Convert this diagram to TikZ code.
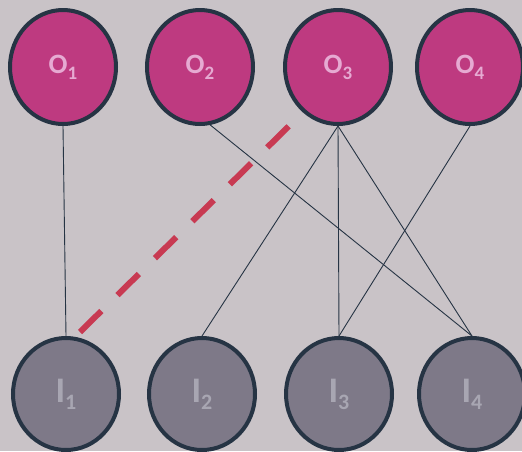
\documentclass[tikz,border=0pt]{standalone}
\usepackage{fontspec}
\setmainfont{Carlito}
\usetikzlibrary{shapes.geometric}
\definecolor{bg}{RGB}{201,195,199}
\definecolor{ofill}{RGB}{190,58,128}
\definecolor{ifill}{RGB}{126,121,136}
\definecolor{rim}{RGB}{38,52,68}
\definecolor{otext}{RGB}{230,170,210}
\definecolor{itext}{RGB}{168,166,178}
\definecolor{dash}{RGB}{200,58,82}
\newcommand{\olbl}[1]{O\raisebox{-6pt}{\fontsize{19}{19}\selectfont #1}}
\newcommand{\ilbl}[1]{I\raisebox{-7pt}{\fontsize{22}{22}\selectfont #1}}
\begin{document}
\begin{tikzpicture}[x=1pt,y=-1pt,
  onode/.style={ellipse,draw=rim,line width=4pt,fill=ofill,minimum width=106pt,minimum height=114pt,inner sep=0pt,text=otext,font=\fontsize{28}{28}\selectfont\bfseries},
  inode/.style={ellipse,draw=rim,line width=4pt,fill=ifill,minimum width=106pt,minimum height=112pt,inner sep=0pt,text=itext,font=\fontsize{36}{36}\selectfont\bfseries},
  link/.style={draw=rim,line width=0.9pt},
  redash/.style={draw=dash,line width=6pt,dash pattern=on 30pt off 22.6pt}]
\fill[bg] (0,0) rectangle (522,451);
\useasboundingbox (0,0) rectangle (522,451);
\node[onode] (o1) at (63,67) {\olbl{1}};
\node[onode] (o2) at (200,67) {\olbl{2}};
\node[onode] (o3) at (338,67) {\olbl{3}};
\node[onode] (o4) at (470,67) {\olbl{4}};
\node[inode] (i1) at (66,394) {\ilbl{1}};
\node[inode] (i2) at (202,394) {\ilbl{2}};
\node[inode] (i3) at (339,394) {\ilbl{3}};
\node[inode] (i4) at (472,394) {\ilbl{4}};
\coordinate (d1) at (80,332);
\coordinate (d2) at (289,126);
\draw[link] (o1.south) -- (i1.north);
\draw[link] (o2.-80) -- (i4.north);
\draw[link] (o3.south) -- (i2.north);
\draw[link] (o3.south) -- (i3.north);
\draw[link] (o3.south) -- (i4.north);
\draw[link] (o4.south) -- (i3.north);
\draw[redash] (d1) -- (d2);
\end{tikzpicture}
\end{document}
